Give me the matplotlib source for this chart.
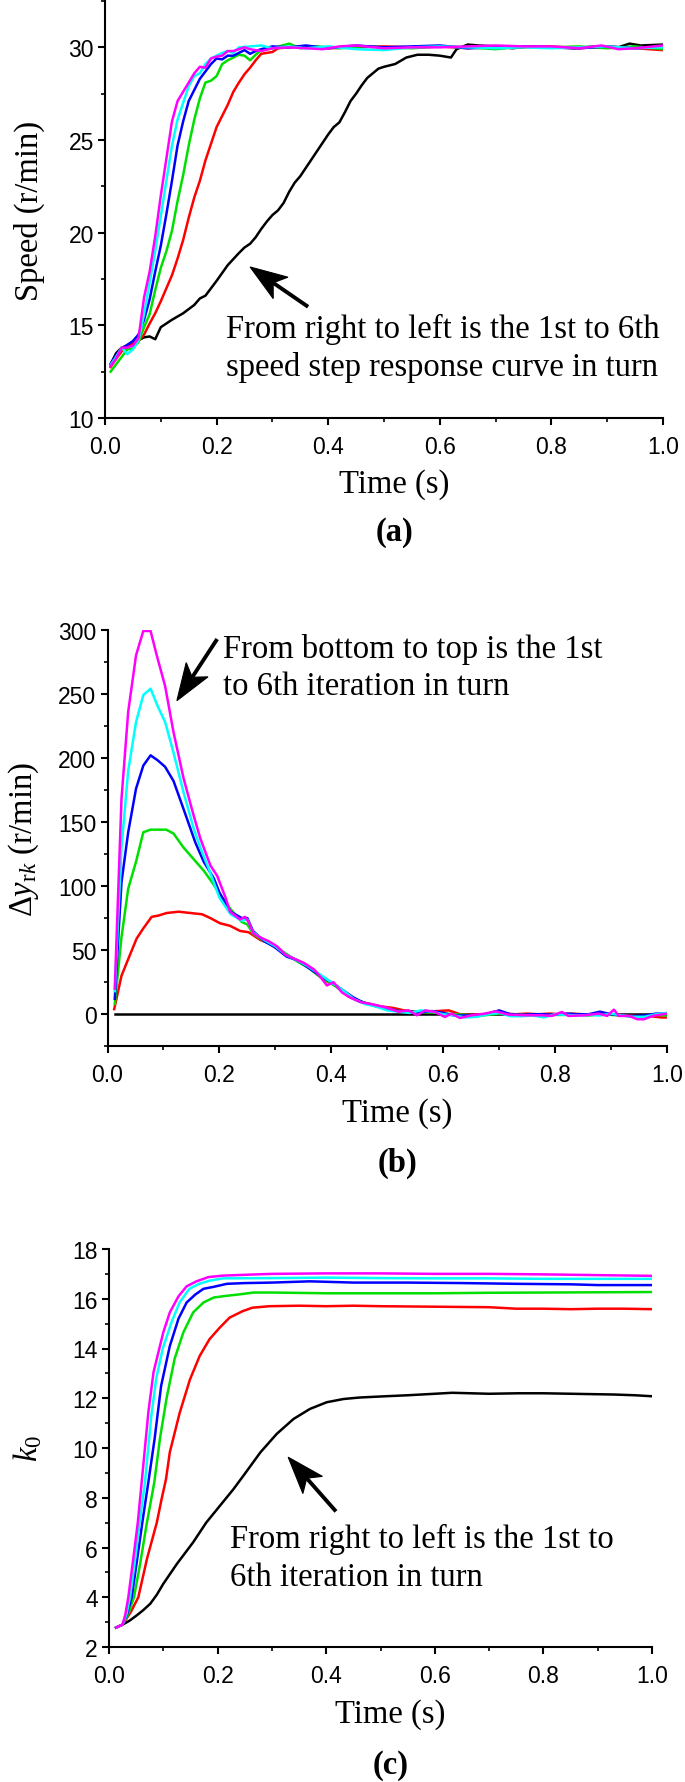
import numpy as np
import matplotlib
matplotlib.use('Agg')
import matplotlib.pyplot as plt
from matplotlib.ticker import MultipleLocator
from matplotlib.patches import Polygon
from matplotlib.lines import Line2D
from matplotlib.transforms import IdentityTransform

plt.rcParams['font.family'] = 'Liberation Serif'
plt.rcParams['mathtext.fontset'] = 'custom'
plt.rcParams['mathtext.rm'] = 'Liberation Serif'
plt.rcParams['mathtext.it'] = 'Liberation Serif:italic'

colors = ['black', 'red', '#00e000', 'blue', 'cyan', 'magenta']

# ---- (a) speed step response ----
a_t_black = [0.01,0.02,0.03,0.04,0.05,0.06,0.07,0.08,0.09,0.10,0.11,0.12,0.14,0.16,0.17,0.18,0.19,0.20,0.22,0.24,
             0.25,0.26,0.27,0.28,0.29,0.30,0.31,0.32,0.33,0.34,0.35,0.36,0.37,0.38,0.39,0.40,0.41,0.42,0.43,0.44,
             0.45,0.46,0.47,0.48,0.49,0.50,0.52,0.54,0.56,0.58,0.60,0.62,0.63,0.65,0.67,0.70,0.73,0.76,0.80,0.84,
             0.88,0.92,0.94,0.96,1.00]
a_y_black = [12.9,13.5,13.8,13.9,14.0,14.2,14.35,14.4,14.25,14.9,15.1,15.3,15.65,16.1,16.45,16.6,17.0,17.4,18.25,18.9,
             19.2,19.4,19.75,20.2,20.6,20.95,21.2,21.6,22.2,22.7,23.05,23.5,23.95,24.4,24.85,25.3,25.7,25.95,26.5,27.1,
             27.5,27.95,28.35,28.6,28.85,28.95,29.1,29.45,29.6,29.6,29.55,29.45,29.9,30.15,30.1,30.05,29.95,30.05,30.0,29.95,
             30.05,30.0,30.2,30.1,30.15]
a_t_red = [0.01,0.02,0.03,0.04,0.05,0.06,0.07,0.08,0.09,0.10,0.11,0.12,0.13,0.14,0.15,0.16,0.17,0.18,0.19,0.20,
           0.21,0.22,0.23,0.24,0.25,0.26,0.27,0.28,0.29,0.30,0.31,0.33,0.36,0.40,0.45,0.50,0.55,0.60,0.65,0.70,
           0.75,0.80,0.85,0.90,0.95,1.00]
a_y_red = [12.75,13.2,13.6,13.85,14.0,14.15,14.5,15.1,15.65,16.3,17.0,17.7,18.6,19.6,20.8,21.9,22.8,23.9,24.8,25.7,
           26.3,26.9,27.6,28.1,28.55,28.9,29.3,29.65,29.7,29.75,29.95,30.0,30.05,29.95,30.0,30.05,30.0,30.05,29.95,30.05,
           30.0,30.05,29.95,30.05,29.95,29.85]
a_t_green = [0.01,0.02,0.03,0.04,0.05,0.06,0.07,0.08,0.09,0.10,0.11,0.12,0.13,0.14,0.15,0.16,0.17,0.18,0.19,0.20,
             0.21,0.22,0.23,0.24,0.25,0.26,0.27,0.28,0.30,0.33,0.35,0.38,0.42,0.46,0.50,0.55,0.60,0.65,0.70,0.75,
             0.80,0.85,0.90,0.95,1.00]
a_y_green = [12.5,12.9,13.3,13.7,13.75,14.1,14.9,15.6,16.9,18.1,19.0,20.1,21.7,23.1,24.7,26.1,27.25,28.1,28.2,28.45,
             29.1,29.3,29.45,29.6,29.55,29.3,29.6,29.85,29.95,30.2,29.95,30.05,29.95,30.05,30.0,29.95,30.05,30.0,29.9,30.05,
             30.0,30.05,29.95,30.05,29.9]
a_t_blue = [0.01,0.02,0.03,0.04,0.05,0.06,0.07,0.08,0.09,0.10,0.11,0.12,0.13,0.14,0.15,0.16,0.17,0.18,0.19,0.20,
            0.21,0.22,0.23,0.24,0.25,0.26,0.27,0.28,0.30,0.33,0.36,0.40,0.45,0.50,0.55,0.60,0.65,0.70,0.75,0.80,
            0.85,0.90,0.95,1.00]
a_y_blue = [12.9,13.4,13.75,13.95,14.15,14.5,15.3,16.4,17.9,19.3,21.0,22.8,24.7,26.0,27.1,27.7,28.3,28.7,29.1,29.4,
            29.35,29.55,29.55,29.7,29.85,29.65,29.8,29.9,30.05,30.0,30.1,29.95,30.1,30.0,30.05,30.1,29.95,30.0,30.05,30.0,
            29.95,30.05,29.95,30.05]
a_t_cyan = [0.01,0.02,0.03,0.04,0.05,0.06,0.07,0.08,0.09,0.10,0.11,0.12,0.13,0.14,0.15,0.16,0.17,0.18,0.19,0.20,
            0.21,0.22,0.23,0.24,0.26,0.28,0.30,0.33,0.36,0.40,0.45,0.50,0.55,0.60,0.65,0.70,0.75,0.80,0.85,0.90,
            0.95,1.00]
a_y_cyan = [12.85,13.3,13.8,13.45,13.7,14.2,15.6,17.3,19.0,20.9,22.8,24.7,26.1,27.0,27.9,28.45,28.6,29.1,29.4,29.55,
            29.7,29.8,29.7,30.0,30.05,30.1,29.95,30.05,29.95,30.05,29.9,29.85,30.0,30.05,30.0,29.95,30.0,29.95,30.0,30.05,
            29.95,30.0]
a_t_mag = [0.01,0.02,0.03,0.04,0.05,0.06,0.07,0.08,0.09,0.10,0.11,0.12,0.13,0.14,0.15,0.16,0.17,0.18,0.19,0.20,
           0.21,0.22,0.23,0.25,0.26,0.28,0.30,0.33,0.36,0.39,0.42,0.45,0.50,0.55,0.60,0.65,0.70,0.75,0.80,0.85,
           0.89,0.92,0.95,1.00]
a_y_mag = [12.8,13.2,13.8,13.8,13.9,14.3,16.5,17.9,19.8,22.0,24.0,26.0,27.1,27.6,28.1,28.6,28.95,28.9,29.4,29.5,
           29.55,29.8,29.8,30.0,29.9,29.8,29.95,30.0,29.95,29.9,30.05,30.1,29.95,30.0,30.0,30.05,30.1,30.05,30.05,29.95,
           30.1,29.9,29.95,30.1]

# ---- (b) delta y_rk ----
b_t_black = [0.013, 1.0]
b_y_black = [0, 0]
b_t_red = [0.012,0.025,0.037,0.052,0.064,0.079,0.091,0.106,0.127,0.148,0.169,0.184,0.201,0.219,0.237,0.252,0.261,0.273,0.291,
           0.31,0.33,0.35,0.37,0.39,0.41,0.43,0.45,0.47,0.49,0.51,0.53,0.55,0.57,0.59,0.61,0.63,0.65,0.67,0.69,0.71,
           0.73,0.75,0.77,0.79,0.81,0.83,0.85,0.87,0.89,0.91,0.93,0.95,0.97,0.99,1.00]
b_y_red = [4,30,43,59,67,76,77,79,80,79,78,75,71,69,65,64,61.5,58,55,
           49,44,40,34,26,22,14,10,8,6,5,3,2,2,2.5,3,0,-0.5,0,0.5,0.5,
           0,0.5,0,0.5,0,0.5,0,0,0,-0.5,-1,-1.5,-1.5,-2.5,-2.5]
b_t_green = [0.013,0.025,0.037,0.051,0.064,0.077,0.090,0.105,0.118,0.136,0.154,0.172,0.19,0.20,0.22,0.24,0.25,0.26,
             0.28,0.30,0.32,0.34,0.36,0.38,0.40,0.42,0.44,0.46,0.48,0.50,0.52,0.54,0.56,0.58,0.60,0.62,0.64,0.66,
             0.68,0.70,0.72,0.74,0.76,0.78,0.80,0.82,0.84,0.86,0.88,0.90,0.92,0.94,0.96,0.98,1.00]
b_y_green = [8,60,98,119,142,144,144,144,141,130,121,112,101,94,82,72,70,63,
             57,53,47,41,36,29,24,18,12,9,6,4.5,2.5,2,1.5,1.5,0.5,0,-0.5,-1.5,
             -0.5,0.5,0,-0.5,-0.5,-1,-0.5,-0.5,0,-1,0,-0.5,-1,-2,-1.5,-0.5,-1]
b_t_blue = [0.013,0.025,0.037,0.051,0.064,0.077,0.090,0.103,0.118,0.136,0.157,0.172,0.19,0.20,0.22,0.24,0.25,0.26,
            0.28,0.30,0.32,0.34,0.36,0.38,0.40,0.42,0.44,0.46,0.48,0.50,0.52,0.54,0.56,0.58,0.60,0.62,0.64,0.66,
            0.68,0.70,0.72,0.74,0.76,0.78,0.80,0.82,0.84,0.86,0.88,0.90,0.92,0.94,0.96,0.98,1.00]
b_y_blue = [12,103,142,176,194,202,198,193,182,160,134,119,106,95,80,75,75,65,
            57,52,45,42,36,30,25,19,13,8.5,6.5,4.5,2.5,2,1.5,2.5,1,-1,-1,-1,
            0.5,3,0,-0.5,0,0,-0.5,0.5,0,0,2,0,-1,-1.5,-1,0.5,0.5]
b_t_cyan = [0.013,0.025,0.037,0.051,0.064,0.077,0.090,0.103,0.118,0.136,0.154,0.166,0.184,0.200,0.22,0.24,0.25,0.26,
            0.28,0.30,0.32,0.34,0.36,0.38,0.40,0.42,0.44,0.46,0.48,0.50,0.52,0.54,0.56,0.58,0.60,0.62,0.64,0.66,
            0.68,0.70,0.72,0.74,0.76,0.78,0.80,0.82,0.84,0.86,0.88,0.90,0.92,0.94,0.96,0.98,1.00]
b_y_cyan = [18,130,190,228,249,254,240,228,204,173,145,130,110,91,78,73,74,64,
            58,53,46,42,37,31,25,19,12,8,6,3,2,1,3,2,0,-1,-2.5,-2,
            0,1,-1.5,-1.5,-1,-2.5,0,-0.5,-1,-0.5,-1,0.5,-1,-2,-2,0,1]
b_t_mag = [0.013,0.025,0.037,0.051,0.064,0.077,0.088,0.103,0.118,0.136,0.154,0.166,0.184,0.196,0.211,0.219,0.237,0.246,
           0.252,0.261,0.273,0.288,0.303,0.318,0.333,0.351,0.369,0.380,0.392,0.404,0.419,0.434,0.452,0.47,0.496,0.52,
           0.538,0.553,0.568,0.585,0.603,0.615,0.63,0.651,0.675,0.693,0.717,0.747,0.776,0.794,0.812,0.824,0.854,0.878,
           0.893,0.905,0.914,0.932,0.947,0.959,0.974,1.0]
b_y_mag = [20,168,236,280,299,299,280,256,220,184,155,137,116,108,91,80,74,76,
           72,63,60,57,53,46.5,43.5,40,35,29.5,22.5,25,17,13,9.5,8,5.5,2,
           3,-0.8,3,1.8,-2.1,0.5,-2.9,-0.8,0.5,2.3,-0.3,-0.8,-0.8,-1.3,1.8,-1.3,-0.8,0.5,
           -1.3,3.6,-1.3,-1.3,-3.9,-3.9,-1.3,0.5]

# ---- (c) k0 ----
c_t_black = [0.013,0.025,0.038,0.051,0.063,0.076,0.088,0.100,0.125,0.155,0.179,0.204,0.229,0.248,0.279,0.309,0.340,0.370,
             0.401,0.432,0.462,0.509,0.55,0.60,0.632,0.70,0.754,0.80,0.877,0.93,0.969,1.0]
c_y_black = [2.78,2.9,3.06,3.27,3.48,3.74,4.1,4.54,5.34,6.21,7.0,7.67,8.34,8.9,9.83,10.57,11.17,11.57,
             11.84,11.97,12.03,12.08,12.12,12.18,12.22,12.18,12.2,12.2,12.17,12.15,12.12,12.08]
c_t_red = [0.013,0.025,0.04,0.054,0.070,0.088,0.097,0.105,0.112,0.13,0.149,0.167,0.185,0.204,0.222,0.246,0.264,0.295,
           0.35,0.40,0.45,0.50,0.60,0.70,0.75,0.80,0.85,0.90,0.95,1.0]
c_y_red = [2.78,2.9,3.4,4.0,5.55,7.0,7.96,8.75,9.83,11.4,12.75,13.7,14.37,14.84,15.24,15.5,15.64,15.7,
           15.72,15.7,15.72,15.7,15.68,15.66,15.6,15.6,15.58,15.6,15.6,15.58]
c_t_green = [0.013,0.025,0.035,0.046,0.057,0.069,0.0835,0.094,0.106,0.121,0.137,0.155,0.174,0.193,0.217,0.242,0.266,
             0.30,0.40,0.50,0.60,0.70,0.80,0.90,1.0]
c_y_green = [2.78,2.9,3.3,4.0,5.3,6.9,8.63,10.4,12.0,13.6,14.65,15.45,15.85,16.05,16.12,16.18,16.25,
             16.25,16.22,16.22,16.22,16.24,16.25,16.26,16.27]
c_t_blue = [0.013,0.025,0.033,0.0418,0.051,0.062,0.0725,0.084,0.096,0.112,0.128,0.143,0.159,0.174,0.193,0.217,0.25,
            0.30,0.37,0.45,0.55,0.65,0.75,0.85,0.90,1.0]
c_y_blue = [2.78,2.9,3.3,4.0,5.4,7.1,8.63,10.37,12.5,14.1,15.2,15.85,16.17,16.4,16.48,16.6,16.63,
            16.65,16.7,16.65,16.65,16.63,16.6,16.58,16.55,16.55]
c_t_cyan = [0.013,0.025,0.032,0.0387,0.048,0.057,0.0663,0.078,0.087,0.099,0.115,0.130,0.148,0.166,0.186,0.21,
            0.30,0.40,0.50,0.60,0.70,0.80,0.90,1.0]
c_y_cyan = [2.78,2.9,3.3,4.0,5.5,7.1,8.63,11.3,12.8,14.0,15.05,15.85,16.4,16.6,16.73,16.82,
            16.83,16.85,16.83,16.82,16.82,16.8,16.8,16.8]
c_t_mag = [0.013,0.025,0.030,0.0356,0.045,0.053,0.0602,0.0725,0.082,0.091,0.100,0.112,0.128,0.143,0.161,0.183,0.21,
           0.26,0.30,0.40,0.50,0.60,0.70,0.80,0.90,1.0]
c_y_mag = [2.78,2.9,3.3,4.0,5.6,7.0,8.63,11.44,13.05,13.85,14.65,15.45,16.1,16.5,16.7,16.87,16.93,
           16.97,17.0,17.02,17.02,17.0,17.0,16.98,16.95,16.92]

W, H = 685, 1783
FS = 23.5   # serif text size
TS = 16.5   # tick label size
fig = plt.figure(figsize=(W/100, H/100), dpi=100)

def make_ax(left, right, top, bottom):
    return fig.add_axes([left/W, 1-bottom/H, (right-left)/W, (bottom-top)/H])

def style(ax, ylim, ymaj, ylabel, lblx, tlabel_y, panel_y, panel):
    ax.set_xlim(0, 1)
    ax.set_ylim(*ylim)
    ax.spines['top'].set_visible(False)
    ax.spines['right'].set_visible(False)
    for s in ['left', 'bottom']:
        ax.spines[s].set_linewidth(1.5)
    ax.xaxis.set_major_locator(MultipleLocator(0.2))
    ax.xaxis.set_minor_locator(MultipleLocator(0.1))
    ax.yaxis.set_major_locator(MultipleLocator(ymaj))
    ax.yaxis.set_minor_locator(MultipleLocator(ymaj/2))
    ax.xaxis.set_major_formatter(plt.FormatStrFormatter('%.1f'))
    ax.tick_params(which='major', direction='out', length=5, width=1.5,
                   labelsize=TS, labelfontfamily='Liberation Sans')
    ax.tick_params(axis='x', which='major', pad=7)
    ax.tick_params(axis='y', which='major', pad=3)
    ax.tick_params(which='minor', direction='out', length=3, width=1.2)
    ax.set_ylabel(ylabel, fontsize=FS)
    ax.yaxis.label.set_va('center')
    ax.yaxis.set_label_coords(lblx, 0.5)
    ax.set_xlabel('Time (s)', fontsize=FS)
    ax.xaxis.label.set_va('center')
    ax.xaxis.set_label_coords(0.518, tlabel_y)
    ax.text(0.518, panel_y, panel, transform=ax.transAxes, ha='center', va='center',
            fontsize=FS, fontweight='bold')

def swept_arrow(ax, tip, tail):
    # Origin-style arrow with swept-back barbs, built in pixel space
    p0 = ax.transData.transform(tip)
    p1 = ax.transData.transform(tail)
    u = (p1 - p0) / np.hypot(*(p1 - p0))
    n = np.array([-u[1], u[0]])
    head = [p0, p0 + 37*u + 13*n, p0 + 28*u, p0 + 37*u - 13*n]
    fig.add_artist(Polygon(head, closed=True, fc='black', ec='black', lw=0.8,
                           transform=IdentityTransform()))
    fig.add_artist(Line2D([p0[0] + 28*u[0], p1[0]], [p0[1] + 28*u[1], p1[1]],
                          color='black', lw=2.8, solid_capstyle='butt',
                          transform=IdentityTransform()))

# (a)
ax = make_ax(105, 663, 2, 419)
ts = [a_t_black, a_t_red, a_t_green, a_t_blue, a_t_cyan, a_t_mag]
ys = [a_y_black, a_y_red, a_y_green, a_y_blue, a_y_cyan, a_y_mag]
for t, y, c in zip(ts, ys, colors):
    ax.plot(t, y, color=c, lw=1.8)
style(ax, (10, 32.5), 5, 'Speed (r/min)', -0.135, -0.158, -0.273, '(a)')
swept_arrow(ax, (0.26, 18.15), (0.364, 16.0))
ax.text(0.217, 13.8, 'From right to left is the 1st to 6th\nspeed step response curve in turn',
        fontsize=FS, ha='left', va='center', linespacing=1.27)

# (b)
ax = make_ax(107.5, 667, 630.7, 1047.3)
ts = [b_t_black, b_t_red, b_t_green, b_t_blue, b_t_cyan, b_t_mag]
ys = [b_y_black, b_y_red, b_y_green, b_y_blue, b_y_cyan, b_y_mag]
for t, y, c in zip(ts, ys, colors):
    ax.plot(t, y, color=c, lw=1.8)
style(ax, (-25, 300), 50, r'$\Delta y_{\mathrm{r}k}$ (r/min)', -0.15, -0.158, -0.278, '(b)')
swept_arrow(ax, (0.124, 244.6), (0.196, 292.7))
ax.text(0.207, 271, 'From bottom to top is the 1st\nto 6th iteration in turn',
        fontsize=FS, ha='left', va='center', linespacing=1.25)

# (c)
ax = make_ax(109, 652, 1250, 1648)
ts = [c_t_black, c_t_red, c_t_green, c_t_blue, c_t_cyan, c_t_mag]
ys = [c_y_black, c_y_red, c_y_green, c_y_blue, c_y_cyan, c_y_mag]
for t, y, c in zip(ts, ys, colors):
    ax.plot(t, y, color=c, lw=1.8)
style(ax, (2, 18), 2, r'$k_0$', -0.15, -0.168, -0.294, '(c)')
swept_arrow(ax, (0.33, 9.63), (0.418, 7.45))
ax.text(0.223, 5.58, 'From right to left is the 1st to\n6th iteration in turn',
        fontsize=FS, ha='left', va='center', linespacing=1.32)

fig.savefig('out.png', dpi=100)
